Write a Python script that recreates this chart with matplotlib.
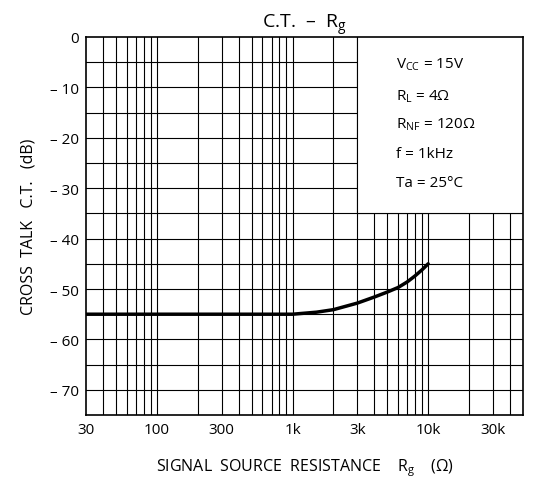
import numpy as np
import matplotlib
matplotlib.use("Agg")
import matplotlib.pyplot as plt
from matplotlib.ticker import FixedLocator, NullFormatter, NullLocator

# Data
rg_ohm = [30, 100, 300, 1000, 1500, 2000, 3000, 4000, 5000, 6000, 7000, 8000, 9000, 10000]
ct_db = [-55, -55, -55, -55, -54.6, -54.1, -52.8, -51.6, -50.6, -49.7, -48.6, -47.4, -46.2, -45.0]

x_ticks = [30, 100, 300, 1000, 3000, 10000, 30000]
x_tick_labels = ["30", "100", "300", "1k", "3k", "10k", "30k"]
y_ticks = [0, -10, -20, -30, -40, -50, -60, -70]
y_tick_labels = ["0", "– 10", "– 20", "– 30", "– 40", "– 50", "– 60", "– 70"]
conditions = [r"V$_{\rm CC}$ = 15V", r"R$_{\rm L}$ = 4$\Omega$", r"R$_{\rm NF}$ = 120$\Omega$",
              "f = 1kHz", "Ta = 25°C"]

plt.rcParams['font.family'] = ['Open Sans', 'DejaVu Sans']
plt.rcParams['mathtext.fontset'] = 'custom'
plt.rcParams['mathtext.rm'] = 'Open Sans'

fig = plt.figure(figsize=(5.36, 4.81), dpi=100)
ax = fig.add_axes([0.1604, 0.1351, 0.9757 - 0.1604, 0.921 - 0.1351])

ax.set_xscale('log')
ax.set_xlim(30, 50000)
ax.set_ylim(-75, 0)

# grid lines
grid_x = []
for dec in [10, 100, 1000, 10000]:
    for m in range(1, 10):
        v = m * dec
        if 30 < v < 50000:
            grid_x.append(v)
for v in grid_x:
    ax.axvline(v, color='black', lw=0.8, zorder=1)
for v in range(-70, 0, 5):
    ax.axhline(v, color='black', lw=0.8, zorder=1)

# white box for conditions
ax.fill_between([3000, 50000], -35, 0, color='white', zorder=2, lw=0)
ax.plot([3000, 3000], [-35, 0], color='black', lw=0.8, zorder=2.1)
ax.plot([3000, 50000], [-35, -35], color='black', lw=0.8, zorder=2.1)

ax.plot(rg_ohm, ct_db, color='black', lw=2.5, zorder=3, solid_capstyle='round')

ax.xaxis.set_major_locator(FixedLocator(x_ticks))
ax.set_xticklabels(x_tick_labels)
ax.xaxis.set_minor_locator(NullLocator())
ax.xaxis.set_minor_formatter(NullFormatter())
ax.set_yticks(y_ticks)
ax.set_yticklabels(y_tick_labels)
ax.tick_params(length=0, labelsize=11, pad=5)

for s in ax.spines.values():
    s.set_linewidth(1.2)

ys = [0.929, 0.846, 0.770, 0.692, 0.616]
for t, y in zip(conditions, ys):
    ax.text(0.709, y, t, transform=ax.transAxes, fontsize=11, va='center', ha='left', zorder=4)

ax.set_title(r"C.T.  –  R$_{\rm g}$", fontsize=14, pad=5)
ax.set_xlabel(r"SIGNAL  SOURCE  RESISTANCE    R$_{\rm g}$    ($\Omega$)", fontsize=11.5, labelpad=14)
ax.set_ylabel("CROSS  TALK   C.T.   (dB)", fontsize=11.5, labelpad=10)

fig.savefig("out.png", dpi=100)
